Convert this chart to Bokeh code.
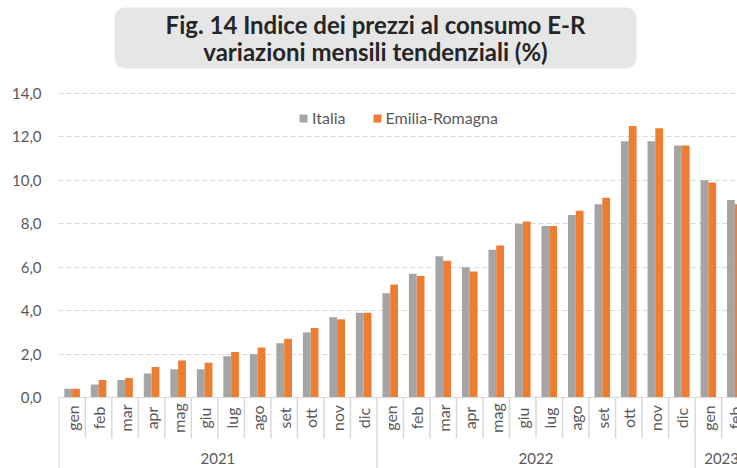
import numpy as np
from bokeh.plotting import figure
from bokeh.models import (ColumnDataSource, Range1d, LinearAxis, FixedTicker, Span,
                          Label, Legend, LegendItem, Grid)
from bokeh.transform import dodge
from bokeh.core.properties import value
from bokeh.embed import file_html
from bokeh.resources import INLINE

# ---------------- data ----------------
months = ["gen", "feb", "mar", "apr", "mag", "giu", "lug", "ago", "set", "ott", "nov", "dic",
          "gen", "feb", "mar", "apr", "mag", "giu", "lug", "ago", "set", "ott", "nov", "dic",
          "gen", "feb"]
years = ["2021", "2022", "2023"]
year_months = [12, 12, 2]
italia = [0.4, 0.6, 0.8, 1.1, 1.3, 1.3, 1.9, 2.0, 2.5, 3.0, 3.7, 3.9,
          4.8, 5.7, 6.5, 6.0, 6.8, 8.0, 7.9, 8.4, 8.9, 11.8, 11.8, 11.6,
          10.0, 9.1]
emilia = [0.4, 0.8, 0.9, 1.4, 1.7, 1.6, 2.1, 2.3, 2.7, 3.2, 3.6, 3.9,
          5.2, 5.6, 6.3, 5.8, 7.0, 8.1, 7.9, 8.6, 9.2, 12.5, 12.4, 11.6,
          9.9, 8.9]
series_names = ["Italia", "Emilia-Romagna"]
y_ticks = [0, 2, 4, 6, 8, 10, 12, 14]
y_tick_labels = ["0,0", "2,0", "4,0", "6,0", "8,0", "10,0", "12,0", "14,0"]
title_text = "Fig. 14 Indice dei prezzi al consumo E-R\nvariazioni mensili tendenziali (%)"

# ---------------- styling ----------------
GRAY = "#A5A5A5"
ORANGE = "#ED7D31"
LINE = "#D9D9D9"
TXT = "#595959"
FONT = "Lato"
PX_PER_UNIT = 21.714

W, H = 737, 468
p = figure(width=W, height=H, output_backend="svg", toolbar_location=None,
           x_range=Range1d(-0.012, 25.6), y_range=Range1d(-3.27, 18.283),
           min_border_left=58, min_border_right=0, min_border_top=0, min_border_bottom=0,
           x_axis_location=None, y_axis_location=None)
p.outline_line_color = None
p.xgrid.visible = False
p.ygrid.visible = False

n = len(months)
src = ColumnDataSource(dict(x=np.arange(n) + 0.5, italia=italia, emilia=emilia))
bw = 0.294
r1 = p.vbar(x=dodge("x", -bw / 2), top="italia", width=bw, source=src,
            fill_color=GRAY, line_color=None)
r2 = p.vbar(x=dodge("x", bw / 2), top="emilia", width=bw, source=src,
            fill_color=ORANGE, line_color=None)

# y axis
yaxis = LinearAxis(ticker=FixedTicker(ticks=y_ticks),
                   major_label_overrides={t: l for t, l in zip(y_ticks, y_tick_labels)})
yaxis.axis_line_color = None
yaxis.major_tick_line_color = None
yaxis.minor_tick_line_color = None
yaxis.major_label_standoff = 11
yaxis.major_label_text_font = FONT
yaxis.major_label_text_font_size = "15px"
yaxis.major_label_text_color = TXT
p.add_layout(yaxis, "left")

grid = Grid(dimension=1, ticker=FixedTicker(ticks=y_ticks[1:]),
            grid_line_color=LINE, grid_line_dash="5 3", grid_line_width=1)
p.add_layout(grid)
p.add_layout(Span(location=0, dimension="width", line_color=LINE, line_width=1))

# category axis drawn in the frame
month_sep_len = 41 / PX_PER_UNIT
ylow = -3.27
year_bounds = np.concatenate([[0], np.cumsum(year_months)])
month_bounds = [b for b in range(1, n + 1) if b not in year_bounds]
p.segment(x0=month_bounds, y0=[0] * len(month_bounds), x1=month_bounds,
          y1=[-month_sep_len] * len(month_bounds), line_color=LINE, line_width=1.5)
p.segment(x0=list(year_bounds), y0=[0] * len(year_bounds), x1=list(year_bounds),
          y1=[ylow] * len(year_bounds), line_color=LINE, line_width=1.5)

p.text(x=list(np.arange(n) + 0.5), y=[-20.5 / PX_PER_UNIT] * n, text=months,
       angle=np.pi / 2, text_align="center", text_baseline="middle",
       text_font=value(FONT), text_font_size="16px", text_color=TXT)
year_centers = list(year_bounds[:-1] + np.array(year_months) / 2)
p.text(x=year_centers, y=[-61 / PX_PER_UNIT] * len(years), text=years,
       text_align="center", text_baseline="middle",
       text_font=value(FONT), text_font_size="15px", text_color=TXT)

# legend
legend = Legend(items=[LegendItem(label=series_names[0], renderers=[r1]),
                       LegendItem(label=series_names[1], renderers=[r2])],
                location=(240, 341), orientation="horizontal",
                glyph_width=10, glyph_height=10, label_standoff=4, spacing=26,
                padding=0, margin=0, background_fill_alpha=0, border_line_alpha=0,
                label_text_font=FONT, label_text_font_size="16px", label_text_color=TXT)
p.add_layout(legend)

# title box
title = Label(x=317, y=430.5, x_units="screen", y_units="screen", text=title_text,
              text_align="center", text_baseline="middle", text_font=FONT,
              text_font_style="bold", text_font_size="24px", text_color="#262626",
              text_line_height=0.96,
              background_fill_color="#E6E6E6",
              padding=dict(left=51, right=51, top=2, bottom=2), border_radius=10)
p.add_layout(title)

open("out.html", "w").write(file_html(p, INLINE))
